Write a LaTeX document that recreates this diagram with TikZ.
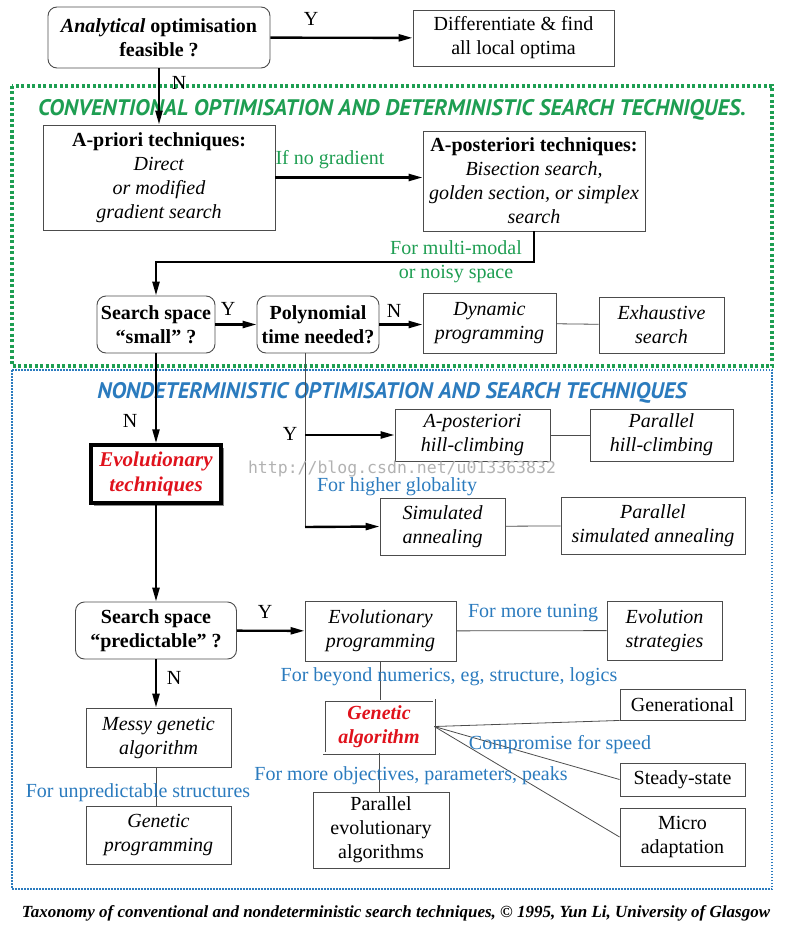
\documentclass[tikz,border=0pt]{standalone}
\usepackage{fontspec}
\setmainfont{Liberation Serif}
\newfontfamily\bannerfont{PT Sans}
\newfontfamily\markfont{DejaVu Sans Mono}
\usepackage{tikz}
\usetikzlibrary{arrows.meta,calc,shadows}
\definecolor{detGreen}{HTML}{1E9E52}
\definecolor{nondetBlue}{HTML}{2B7BBE}
\definecolor{evoRed}{HTML}{E0121C}

\tikzset{
  box/.style={draw=black!70, line width=0.9pt, align=center, inner sep=2pt,
    font=\fontsize{20}{24}\selectfont},
  query/.style={box, rounded corners=9pt, font=\fontsize{20}{24}\selectfont\bfseries},
  arr/.style={-{Triangle[length=14pt,width=7pt]}, line width=2.4pt},
  link/.style={line width=0.8pt, black!70},
  note/.style={font=\fontsize{20}{24}\selectfont, align=center, inner sep=0pt},
  greennote/.style={note, text=detGreen},
  bluenote/.style={note, text=nondetBlue},
  banner/.style={font=\bannerfont\bfseries\itshape\fontsize{22.5}{26}\selectfont}
}

\begin{document}
\begin{tikzpicture}[x=1pt,y=-1pt]
  \useasboundingbox (0,0) rectangle (786,931);

  % the two families of techniques
  \draw[detGreen, line width=3.5pt, dash pattern=on 3pt off 2.5pt] (12,86) rectangle (772,366);
  \draw[nondetBlue, line width=1.5pt, dash pattern=on 1.5pt off 1.5pt] (12,370) rectangle (772,889);
  \node[banner, text=detGreen] (convtitle) at (392,110) {CONVENTIONAL OPTIMISATION AND DETERMINISTIC SEARCH TECHNIQUES.};
  \node[banner, text=nondetBlue] (nondettitle) at (392,393) {NONDETERMINISTIC OPTIMISATION AND SEARCH TECHNIQUES};

  % top decision
  \node[query, minimum width=222pt, minimum height=61pt] (analytic) at (159,37.5) {\textit{Analytical} optimisation\\feasible ?};
  \node[box, minimum width=201pt, minimum height=56pt] (diff) at (513.5,38) {Differentiate \& find\\all local optima};

  % conventional
  \node[box, minimum width=232pt, minimum height=105pt] (apriori) at (159,177.5) {\textbf{A-priori techniques:}\\\textit{Direct}\\\textit{or modified}\\\textit{gradient search}};
  \node[box, minimum width=222pt, minimum height=100pt] (apost) at (534,181) {\textbf{A-posteriori techniques:}\\\textit{Bisection search,}\\\textit{golden section, or simplex}\\\textit{search}};
  \node[query, minimum width=118pt, minimum height=57pt] (small) at (156,324.5) {Search space\\“small” ?};
  \node[query, minimum width=122pt, minimum height=57pt] (poly) at (318,324.5) {Polynomial\\time needed?};
  \node[box, minimum width=133pt, minimum height=60pt, font=\fontsize{20}{24}\selectfont\itshape] (dyn) at (489.5,323) {Dynamic\\programming};
  \node[box, minimum width=125pt, minimum height=56pt, font=\fontsize{20}{24}\selectfont\itshape] (exh) at (661.5,325) {Exhaustive\\search};

  % nondeterministic
  \node[box, minimum width=155pt, minimum height=52pt, font=\fontsize{20}{24}\selectfont\itshape] (hill) at (472.5,435) {A-posteriori\\hill-climbing};
  \node[box, minimum width=143pt, minimum height=52pt, font=\fontsize{20}{24}\selectfont\itshape] (phill) at (661.5,435) {Parallel\\hill-climbing};
  \node[box, minimum width=125pt, minimum height=57pt, font=\fontsize{20}{24}\selectfont\itshape] (sa) at (442.5,526.5) {Simulated\\annealing};
  \node[box, minimum width=184pt, minimum height=57pt, font=\fontsize{20}{24}\selectfont\itshape] (psa) at (653,525.5) {Parallel\\simulated annealing};
  \node[box, draw=black, line width=3.5pt, fill=white, minimum width=130pt, minimum height=58pt,
    drop shadow={shadow xshift=3pt, shadow yshift=-3pt, fill=black!45, opacity=1},
    font=\fontsize{21}{25}\selectfont\bfseries\itshape, text=evoRed] (evo) at (156,474) {Evolutionary\\techniques};
  \node[query, minimum width=161pt, minimum height=57pt] (pred) at (156,630.5) {Search space\\“predictable” ?};
  \node[box, minimum width=151pt, minimum height=60pt, font=\fontsize{20}{24}\selectfont\itshape] (ep) at (380.5,631) {Evolutionary\\programming};
  \node[box, minimum width=115pt, minimum height=59pt, font=\fontsize{20}{24}\selectfont\itshape] (es) at (664.5,630.5) {Evolution\\strategies};
  \node[box, double=white, double distance=1.6pt, line width=0.7pt, fill=white, minimum width=110pt, minimum height=53pt,
    drop shadow={shadow xshift=2pt, shadow yshift=-2pt, fill=black!30, opacity=1},
    font=\fontsize{20}{24}\selectfont\bfseries\itshape, text=evoRed] (ga) at (379,726.5) {Genetic\\algorithm};
  \node[box, minimum width=125pt, minimum height=31pt] (gen) at (682.5,704.5) {Generational};
  \node[box, minimum width=125pt, minimum height=33pt] (ss) at (682.5,779.5) {Steady-state};
  \node[box, minimum width=125pt, minimum height=58pt] (micro) at (682.5,837) {Micro\\adaptation};
  \node[box, minimum width=136pt, minimum height=76pt] (pea) at (381,830) {Parallel\\evolutionary\\algorithms};
  \node[box, minimum width=145pt, minimum height=59pt, font=\fontsize{20}{24}\selectfont\itshape] (messy) at (158.5,737.5) {Messy genetic\\algorithm};
  \node[box, minimum width=145pt, minimum height=58pt, font=\fontsize{20}{24}\selectfont\itshape] (gp) at (158.5,835) {Genetic\\programming};

  \coordinate (bend) at (156,262);
  \coordinate (ybranch) at (305,527);

  % connectors
  \draw[arr] (analytic) -- (diff);
  \draw[arr] (analytic.south) -- (apriori.north);
  \draw[arr] (apriori.east) -- (apriori.east -| apost.west);
  \draw[arr] (apost.south) |- (bend) -- (small.north);
  \draw[arr] (small) -- (poly);
  \draw[arr] (poly.east) -- (poly.east -| dyn.west);
  \draw[link] (dyn) -- (exh);
  \draw[link] (poly.south -| ybranch) -- (ybranch);
  \draw[arr] (hill.west -| ybranch) -- (hill.west);
  \draw[arr] (ybranch) -- (sa.west);
  \draw[link] (hill) -- (phill);
  \draw[link] (sa) -- (psa);
  \draw[arr] (small) -- (evo);
  \draw[arr] (evo) -- (pred);
  \draw[arr] (pred) -- (ep);
  \draw[link] (ep) -- (es);
  \draw[link] (ep.south) -- (ep.south |- ga.north);
  \draw[link] (ga.east) -- (gen.south west);
  \draw[link] (ga.east) -- (ss.west);
  \draw[link] (ga.east) -- (micro.west);
  \draw[link] (ga.south) -- (ga.south |- pea.north);
  \draw[arr] (pred.south) -- (pred.south |- messy.north);
  \draw[link] (messy.south -| pred.south) -- (gp.north -| pred.south);

  % labels
  \node[note] (yes1) at (311,19) {Y};
  \node[note] (no1) at (179,83) {N};
  \node[greennote] (nograd) at (330,160) {If no gradient};
  \node[greennote] (multimodal) at (456,262) {For multi-modal\\or noisy space};
  \node[note] (yes2) at (228,309) {Y};
  \node[note] (no2) at (394,311) {N};
  \node[note] (no3) at (130,421) {N};
  \node[note] (yes3) at (290,434) {Y};
  \node[font=\markfont\fontsize{16.5}{18}\selectfont, text=black!30, inner sep=0pt] (mark) at (402,469) {http://blog.csdn.net/u013363832};
  \node[bluenote] (globality) at (397,487) {For higher globality};
  \node[note] (yes4) at (265,612) {Y};
  \node[note] (no4) at (174,678) {N};
  \node[bluenote] (tuning) at (533,613) {For more tuning};
  \node[bluenote] (beyond) at (449,677) {For beyond numerics, eg, structure, logics};
  \node[bluenote] (speed) at (560,745) {Compromise for speed};
  \node[bluenote] (objectives) at (411,776) {For more objectives, parameters, peaks};
  \node[bluenote] (unpredictable) at (138,793) {For unpredictable structures};

  \node[font=\fontsize{17}{20}\selectfont\bfseries\itshape] (caption) at (396,913) {Taxonomy of conventional and nondeterministic search techniques, © 1995, Yun Li, University of Glasgow};
\end{tikzpicture}
\end{document}
